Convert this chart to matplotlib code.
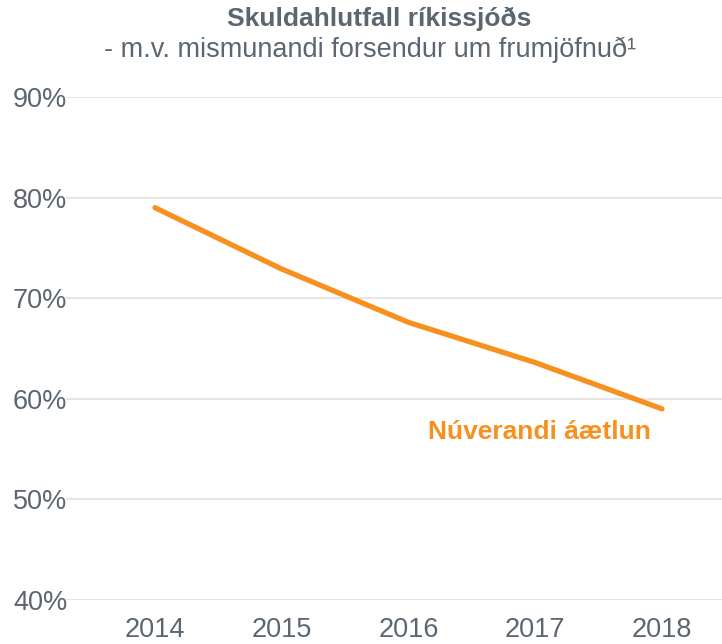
import matplotlib.pyplot as plt

years = [2014, 2015, 2016, 2017, 2018]
debt_ratio = [79.0, 72.9, 67.6, 63.6, 59.0]
y_ticks = [40, 50, 60, 70, 80, 90]
series_label = "Núverandi áætlun"

plt.rcParams['font.family'] = ['Liberation Sans', 'DejaVu Sans']
grey = '#5b6670'
orange = '#F7901E'

fig = plt.figure(figsize=(7.22, 6.44), dpi=100)
# axes spans gridline area: x 66..722 px, y 97..600 px
ax = fig.add_axes([66 / 722, 1 - 600 / 644, (722 - 66) / 722, (600 - 97) / 644])

ax.plot(years, debt_ratio, color=orange, lw=3.8, solid_capstyle='round')
ax.set_xlim(2013.298, 2018.473)
ax.set_ylim(40, 90)
ax.set_yticks(y_ticks)
ax.set_yticklabels([f"{v}%" for v in y_ticks], ha='right')
ax.set_xticks(years)
ax.yaxis.grid(True, color='#e3e3e3', lw=1.3)
ax.set_axisbelow(True)
for s in ax.spines.values():
    s.set_visible(False)
ax.tick_params(length=0, labelsize=19.5, colors=grey)
ax.tick_params(axis='y', pad=-1)
ax.tick_params(axis='x', pad=12)

ax.text(2017.03, 56.7, series_label, color=orange, fontsize=19, fontweight='bold',
        ha='center', va='center')

fig.text(379 / 722, 1 - 19 / 644, "Skuldahlutfall ríkissjóðs", ha='center', va='center',
         fontsize=19, fontweight='bold', color=grey)
fig.text(370 / 722, 1 - 50 / 644, "- m.v. mismunandi forsendur um frumjöfnuð¹", ha='center',
         va='center', fontsize=19.5, color=grey)

fig.savefig('out.png', dpi=100)
